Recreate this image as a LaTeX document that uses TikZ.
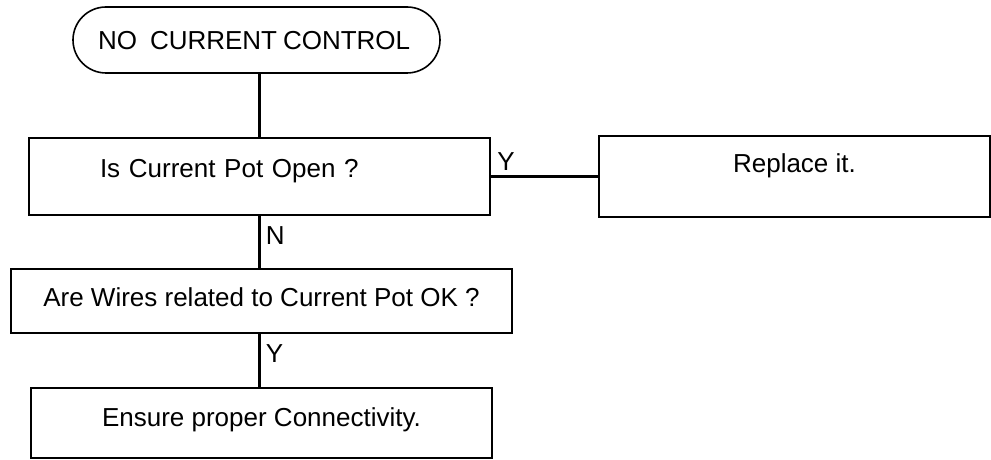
\documentclass[tikz,border=0pt]{standalone}
\usepackage{fontspec}
\setmainfont{Liberation Sans}
\usetikzlibrary{positioning}
\tikzset{
    term/.style = {rectangle, rounded corners=33pt, draw=black, line width=1.6pt, minimum width=367pt, minimum height=66pt, text height=19pt, text depth=0pt},
    box/.style = {rectangle, draw=black, line width=2.2pt, text height=19pt, text depth=#1},
    box/.default = 0pt,
    edgen/.style = {line width=2.6pt},
    tag/.style = {inner sep=5pt}
}

\begin{document}
\begin{tikzpicture}[
  x=1pt, y=1pt,
  font=\fontsize{26pt}{31pt}\selectfont]
  \useasboundingbox (0,0) rectangle (991,460);

  \node[term, text width=317pt, align=left, inner xsep=25pt] (start) at (256.5,420) {NO\hspace{13pt}CURRENT\hspace{6pt}CONTROL};
  \node[box=16pt, minimum width=461pt, minimum height=77pt, text width=319pt, inner xsep=71pt, align=left] (open) at (259.5,283.5) {Is Current Pot Open ?};
  \node[box=26pt, minimum width=391pt, minimum height=81pt] (replace) at (794.5,283.5) {Replace it.};
  \node[box=8pt, minimum width=501pt, minimum height=64pt] (wires) at (261.5,159) {Are Wires related to Current Pot OK ?};
  \node[box=12pt, minimum width=461pt, minimum height=70pt] (ensure) at (261.5,37) {Ensure proper Connectivity.};

  \draw[edgen] (open.north) -- (open.north |- start.south);
  \draw[edgen] (open.east) -- node[tag, pos=0, above right] {Y} (replace.west);
  \draw[edgen] (open.south) -- node[tag, pos=0.37, right] {N} (open.south |- wires.north);
  \draw[edgen] (open.south |- wires.south) -- node[tag, pos=0.36, right] {Y} (open.south |- ensure.north);

\end{tikzpicture}
\end{document}
